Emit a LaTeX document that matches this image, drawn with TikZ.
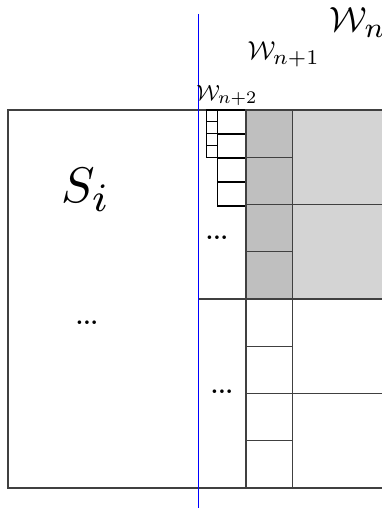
\documentclass[tikz,border=0pt]{standalone}
\usepackage{amsmath}
\usepackage{graphicx}
\newcommand\bigsub[1]{\scalebox{1.15}{$\scriptstyle #1$}}
\begin{document}
\begin{tikzpicture}[x=1pt,y=-1pt,
  grid/.style={draw=black!75,line width=1.1pt},
  darkcell/.style={fill=black!25},
  lightcell/.style={fill=black!17},
  lbl/.style={inner sep=0pt,anchor=base west},
  dotsl/.style={inner sep=0pt,anchor=base,scale=2.3,font=\bfseries}]
\useasboundingbox (0,0) rectangle (382,508);
\begin{scope}
\clip (0,0) rectangle (382,508);
% fills
\fill[darkcell] (246,110) rectangle (292.3,299);
\fill[lightcell] (292.3,110) rectangle (390,299);
% outer frame
\draw[grid] (390,110) -- (8,110) -- (8,488) -- (390,488);
% small squares
\foreach \y in {110,121.8,133.6,145.5}
  \draw[grid,draw=black] (206.7,\y) rectangle (217.3,\y+11.8);
% medium rectangles
\foreach \y in {110,134,158,182}
  \draw[grid,draw=black] (217.3,\y) rectangle (246,\y+24);
% dark column cells
\foreach \y in {110,157.25,204.5,251.75}
  \draw[grid] (246,\y) rectangle (292.3,\y+47.25);
% light cells
\draw[grid] (292.3,110) rectangle (390,204.5);
\draw[grid] (292.3,204.5) rectangle (390,299);
% lower part
\draw[grid] (198,299) -- (390,299);
\foreach \y in {299,346.25,393.5,440.75}
  \draw[grid] (246,\y) rectangle (292.3,\y+47.25);
\draw[grid] (292.3,393.5) -- (390,393.5);
% blue line
\draw[blue,line width=1pt] (198,14) -- (198,508);
% labels
\node[lbl,scale=3.5] (wn) at (329,32) {$\mathcal{W}_{\bigsub{n}}$};
\node[lbl,scale=2.6] (wn1) at (247,60) {$\mathcal{W}_{\bigsub{n+1}}$};
\node[lbl,scale=2.2] (wn2) at (196,100) {$\mathcal{W}_{\bigsub{n+2}}$};
\node[lbl,scale=5] (si) at (60,202) {$S_{\bigsub{i}}$};
\node[dotsl] (d1) at (217,239) {...};
\node[dotsl] (d2) at (222,393) {...};
\node[dotsl] (d3) at (87,324) {...};
\end{scope}
\end{tikzpicture}
\end{document}
